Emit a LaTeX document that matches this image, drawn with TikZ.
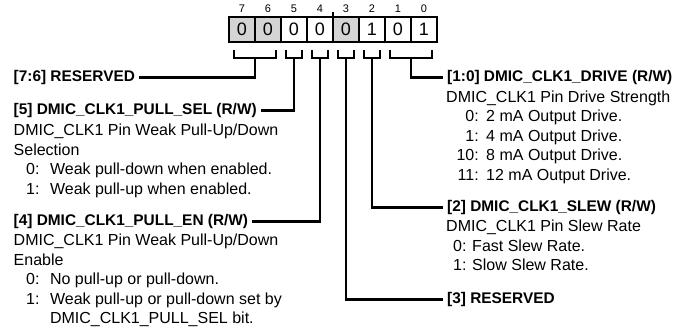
\documentclass[tikz,border=0pt]{standalone}
\usepackage{fontspec}
\setmainfont{Liberation Sans}
\usepackage{xcolor}
\usetikzlibrary{positioning}

\definecolor{rsvgrey}{RGB}{212,212,212}

\begin{document}
\begin{tikzpicture}[
  x=1pt, y=-1pt,
  font=\fontsize{16}{19.5}\selectfont,
  cell/.style={draw, line width=2pt, minimum width=26pt, minimum height=25pt,
               inner sep=0pt, outer sep=0pt, font=\fontsize{18}{20}\selectfont},
  rsv/.style={cell, fill=rsvgrey},
  bitnum/.style={inner sep=0pt, font=\fontsize{11}{12}\selectfont},
  hdr/.style={inner sep=0pt, anchor=base west, font=\fontsize{15.4}{19.5}\selectfont\bfseries},
  desc/.style={inner sep=0pt, anchor=base west, align=left},
  wire/.style={draw=black, line width=2.2pt}
]
\useasboundingbox (0,0) rectangle (675,332);

% register cells, bit 7 down to bit 0
\node[rsv]                   (c7) at (242,29.5) {0};
\node[rsv,  right=0pt of c7] (c6) {0};
\node[cell, right=0pt of c6] (c5) {0};
\node[cell, right=0pt of c5] (c4) {0};
\node[rsv,  right=0pt of c4] (c3) {0};
\node[cell, right=0pt of c3] (c2) {1};
\node[cell, right=0pt of c2] (c1) {0};
\node[cell, right=0pt of c1] (c0) {1};

\node[bitnum, above=4pt of c7] (n7) {7};
\node[bitnum, above=4pt of c6] (n6) {6};
\node[bitnum, above=4pt of c5] (n5) {5};
\node[bitnum, above=4pt of c4] (n4) {4};
\node[bitnum, above=4pt of c3] (n3) {3};
\node[bitnum, above=4pt of c2] (n2) {2};
\node[bitnum, above=4pt of c1] (n1) {1};
\node[bitnum, above=4pt of c0] (n0) {0};
\draw[line width=1.6pt] (c4.north east) -- ++(0,5pt);

% field brackets
\draw[wire] ([xshift=5pt,yshift=-8pt]c7.south west) -- ++(0,-8pt) -| ([xshift=-5pt,yshift=-8pt]c6.south east);
\draw[wire] ([xshift=5pt,yshift=-8pt]c5.south west) -- ++(0,-8pt) -| ([xshift=-5pt,yshift=-8pt]c5.south east);
\draw[wire] ([xshift=5pt,yshift=-8pt]c4.south west) -- ++(0,-8pt) -| ([xshift=-5pt,yshift=-8pt]c4.south east);
\draw[wire] ([xshift=5pt,yshift=-8pt]c3.south west) -- ++(0,-8pt) -| ([xshift=-5pt,yshift=-8pt]c3.south east);
\draw[wire] ([xshift=5pt,yshift=-8pt]c2.south west) -- ++(0,-8pt) -| ([xshift=-5pt,yshift=-8pt]c2.south east);
\draw[wire] ([xshift=5pt,yshift=-8pt]c1.south west) -- ++(0,-8pt) -| ([xshift=-5pt,yshift=-8pt]c0.south east);
\coordinate (b76) at ([yshift=-16pt]c7.south east);
\coordinate (b5)  at ([yshift=-16pt]c5.south);
\coordinate (b4)  at ([yshift=-16pt]c4.south);
\coordinate (b3)  at ([yshift=-16pt]c3.south);
\coordinate (b2)  at ([yshift=-16pt]c2.south);
\coordinate (b10) at ([yshift=-16pt]c1.south east);

% left column
\node[hdr] (h76) at (13.5,81.5) {[7:6] RESERVED};
\node[hdr] (h5)  at (13.5,114.5) {[5] DMIC\_CLK1\_PULL\_SEL (R/W)};
\node[desc] (d5) at (13.5,135.5) {\begin{tabular}[t]{@{\hspace{12.5pt}}r@{\hspace{10.5pt}}l@{}}
  \multicolumn{2}{@{}l@{}}{DMIC\_CLK1 Pin Weak Pull-Up/Down}\\
  \multicolumn{2}{@{}l@{}}{Selection}\\
  0: & Weak pull-down when enabled.\\
  1: & Weak pull-up when enabled.
\end{tabular}};
\node[hdr] (h4)  at (13.5,225.5) {[4] DMIC\_CLK1\_PULL\_EN (R/W)};
\node[desc] (d4) at (13.5,245.5) {\begin{tabular}[t]{@{\hspace{12.5pt}}r@{\hspace{10.5pt}}l@{}}
  \multicolumn{2}{@{}l@{}}{DMIC\_CLK1 Pin Weak Pull-Up/Down}\\
  \multicolumn{2}{@{}l@{}}{Enable}\\
  0: & No pull-up or pull-down.\\
  1: & Weak pull-up or pull-down set by\\
     & DMIC\_CLK1\_PULL\_SEL bit.
\end{tabular}};

% right column
\node[hdr] (h10) at (447,81.5) {[1:0] DMIC\_CLK1\_DRIVE (R/W)};
\node[desc] (d10) at (446,102) {\begin{tabular}[t]{@{\hspace{10.3pt}}r@{\hspace{7.5pt}}l@{}}
  \multicolumn{2}{@{}l@{}}{DMIC\_CLK1 Pin Drive Strength}\\
  0: & 2 mA Output Drive.\\
  1: & 4 mA Output Drive.\\
  10: & 8 mA Output Drive.\\
  11: & 12 mA Output Drive.
\end{tabular}};
\node[hdr] (h2)  at (447,211.5) {[2] DMIC\_CLK1\_SLEW (R/W)};
\node[desc] (d2) at (446,231.5) {\begin{tabular}[t]{@{\hspace{7pt}}r@{\hspace{5.7pt}}l@{}}
  \multicolumn{2}{@{}l@{}}{DMIC\_CLK1 Pin Slew Rate}\\
  0: & Fast Slew Rate.\\
  1: & Slow Slew Rate.
\end{tabular}};
\node[hdr] (h3)  at (447,303.5) {[3] RESERVED};

% field to description
\draw[wire] (b76) |- ([xshift=4pt]h76.east);
\draw[wire] (b5)  |- ([xshift=4pt]h5.east);
\draw[wire] (b4)  |- ([xshift=4pt]h4.east);
\draw[wire] (b3)  |- ([xshift=-4pt]h3.west);
\draw[wire] (b2)  |- ([xshift=-4pt]h2.west);
\draw[wire] (b10) |- ([xshift=-4pt]h10.west);
\end{tikzpicture}
\end{document}
